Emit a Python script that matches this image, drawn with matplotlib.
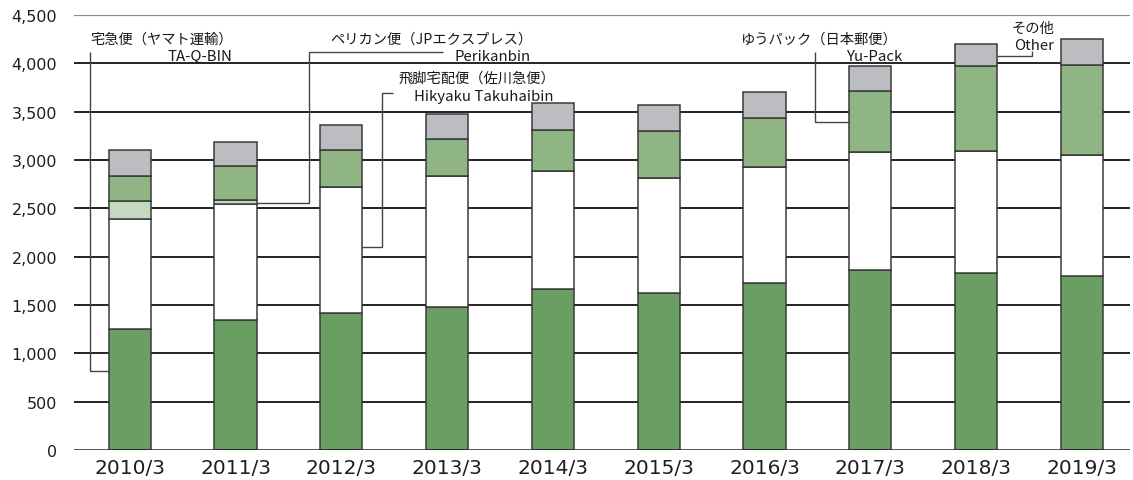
import matplotlib
matplotlib.use("Agg")
import matplotlib.pyplot as plt
import numpy as np

# ---- data (millions of parcels) ----
years = ["2010/3", "2011/3", "2012/3", "2013/3", "2014/3",
         "2015/3", "2016/3", "2017/3", "2018/3", "2019/3"]
yamato = [1252, 1346, 1422, 1484, 1661, 1620, 1727, 1862, 1834, 1803]
sagawa = [1133, 1195, 1296, 1355, 1223, 1195, 1202, 1223, 1262, 1244]
pelican = [191, 49, 0, 0, 0, 0, 0, 0, 0, 0]
yupack = [260, 343, 381, 381, 423, 485, 510, 631, 876, 939]
other = [267, 256, 260, 260, 281, 267, 260, 256, 228, 264]
yticks = [0, 500, 1000, 1500, 2000, 2500, 3000, 3500, 4000, 4500]

series = [yamato, sagawa, pelican, yupack, other]
colors = ["#6a9f63", "#ffffff", "#c5d9bf", "#8fb584", "#bcbdc1"]

W, H = 1133, 481
fig = plt.figure(figsize=(W / 100, H / 100), dpi=100)
plt.rcParams['font.family'] = ['DejaVu Sans']

# axes placement in pixels
L, R, B, T = 74, 1130, 451, 16
ax = fig.add_axes([L / W, 1 - B / H, (R - L) / W, (B - T) / H])

X0, DX = 129.7, 105.8
def px2x(px):
    return (px - X0) / DX
def py2y(py):
    return (B - py) * 4500 / (B - T)

ax.set_xlim(px2x(L), px2x(R))
ax.set_ylim(0, 4500)

x = np.arange(len(years))
bw = 0.4
bottom = np.zeros(len(years))
for vals, c in zip(series, colors):
    v = np.array(vals, dtype=float)
    ax.bar(x, v, bw, bottom=bottom, color=c, edgecolor="#3a3a3a",
           linewidth=1.1, zorder=3)
    bottom += v

# gridlines
for v in yticks[1:-1]:
    ax.axhline(v, color="#222222", lw=1.4, zorder=1)
ax.axhline(4500, color="#8a8a8a", lw=1.6, zorder=1)
ax.axhline(0, color="#222222", lw=1.8, zorder=4)

for s in ax.spines.values():
    s.set_visible(False)
ax.set_yticks(yticks)
ax.set_yticklabels([f"{v:,}" for v in yticks], fontsize=11.5, color="#1e1e1e")
ax.set_xticks(x)
ax.set_xticklabels(years, fontsize=14.5, color="#1e1e1e")
ax.tick_params(axis="y", length=0, pad=12)
ax.tick_params(axis="x", length=0, pad=6)

# ---- annotations ----
jp = ['Noto Sans CJK JP', 'DejaVu Sans']
lc = "#444444"
llw = 1.0

def txt(px, py, s, size, ha="right"):
    ax.text(px2x(px), py2y(py), s, fontsize=size, family=jp, ha=ha,
            va="baseline", color="#1a1a1a", zorder=6, clip_on=False)

def leader(pts):
    xs = [p[0] for p in pts]
    ys = [p[1] for p in pts]
    ax.plot(xs, ys, color=lc, lw=llw, zorder=5, clip_on=False,
            solid_capstyle="butt", solid_joinstyle="miter")

JS, LS = 10.3, 10.8

# Yamato
txt(233, 44, "宅急便（ヤマト運輸）", JS)
txt(232, 61, "TA-Q-BIN", LS)
leader([(px2x(90), py2y(53)), (px2x(90), py2y(371.7)), (x[0] - bw / 2, py2y(371.7))])

# Pelican
txt(532, 44, "ペリカン便（JPエクスプレス）", JS)
txt(531, 61, "Perikanbin", LS)
leader([(px2x(443), py2y(53)), (px2x(309), py2y(53)), (px2x(309), py2y(203.7)),
        (x[1] + bw / 2, py2y(203.7))])

# Sagawa
txt(555, 83, "飛脚宅配便（佐川急便）", JS)
txt(553, 101, "Hikyaku Takuhaibin", LS)
leader([(px2x(393), py2y(94)), (px2x(381.5), py2y(94)), (px2x(381.5), py2y(248.3)),
        (x[2] + bw / 2, py2y(248.3))])

# Yu-Pack
txt(897, 44, "ゆうパック（日本郵便）", JS)
txt(902, 61, "Yu-Pack", LS)
leader([(px2x(815), py2y(53)), (px2x(815), py2y(123)), (x[7] - bw / 2, py2y(123))])

# Other
txt(1054, 32.5, "その他", JS)
txt(1054, 50.5, "Other", LS)
leader([(x[8] + bw / 2, py2y(57)), (px2x(1032), py2y(57)), (px2x(1032), py2y(51.5))])

fig.savefig("out.png", dpi=100)
